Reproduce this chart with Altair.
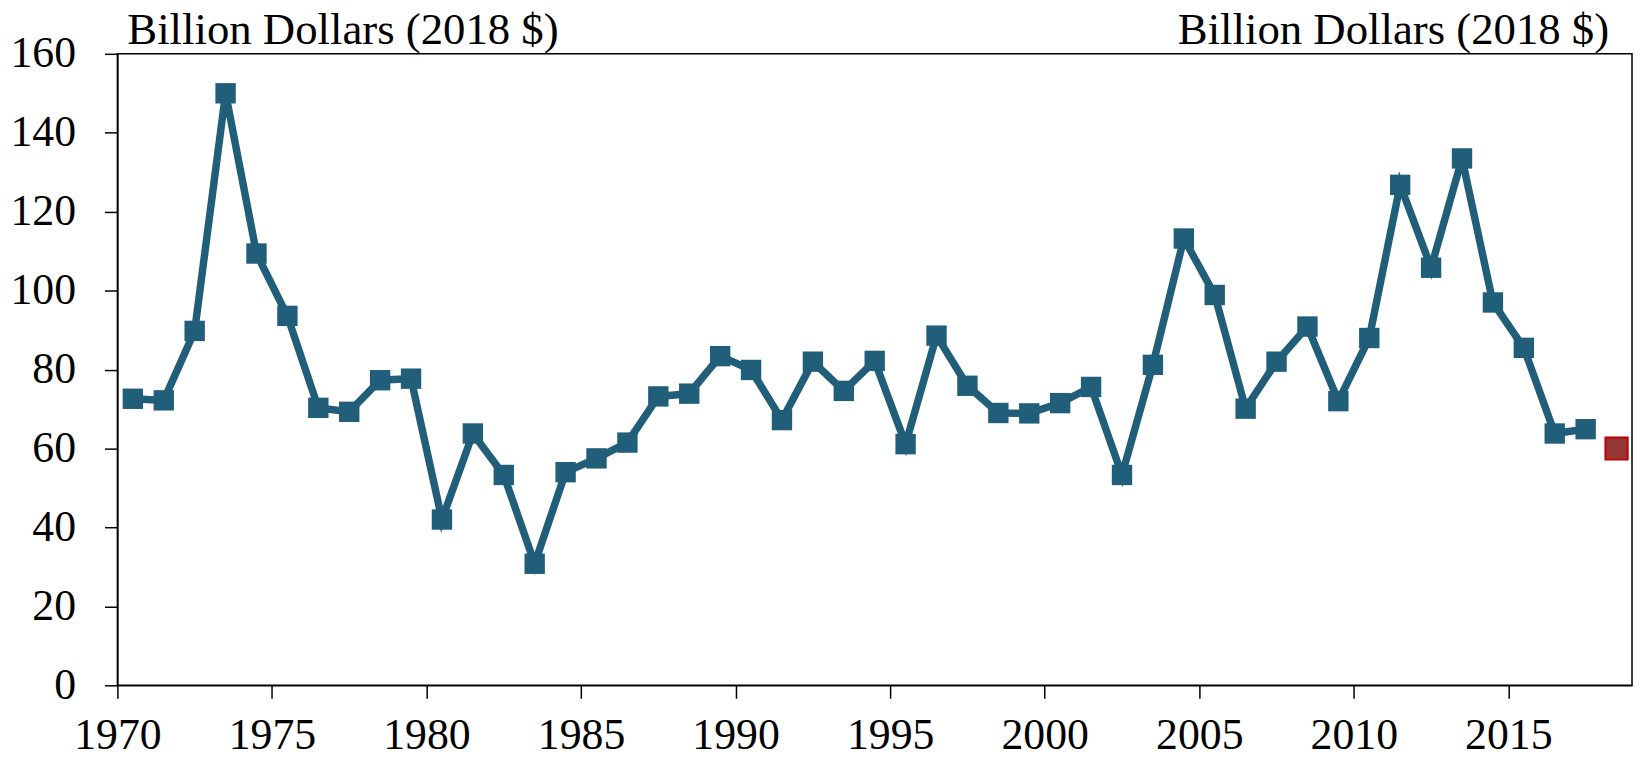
import altair as alt
import pandas as pd

years = list(range(1970, 2018))
values = [72.6, 72.2, 89.8, 150.0, 109.4, 93.6, 70.3, 69.3, 77.3, 77.7,
          42.0, 63.8, 53.3, 30.8, 54.0, 57.5, 61.5, 73.2, 73.9, 83.4,
          79.9, 67.2, 82.0, 74.6, 82.2, 61.1, 88.6, 75.9, 69.0, 68.9,
          71.5, 75.6, 53.3, 81.2, 113.2, 98.9, 70.1, 82.0, 90.9, 72.0,
          88.0, 126.8, 105.8, 133.5, 97.0, 85.5, 63.8, 64.9]
est_year = [2018]
est_value = [60.0]
x_ticks = [1970, 1975, 1980, 1985, 1990, 1995, 2000, 2005, 2010, 2015]
y_ticks = [0, 20, 40, 60, 80, 100, 120, 140, 160]
unit_label = "Billion Dollars (2018 $)"

FONT = "Liberation Serif"
BLUE = "#215E7A"
W, H = 1523, 635

df = pd.DataFrame({"year": years, "value": values})
df_est = pd.DataFrame({"year": est_year, "value": est_value})
df_lbl = pd.DataFrame({"t": [unit_label]})

x_enc = alt.X("mid:Q",
              scale=alt.Scale(domain=[1970, 2019], nice=False, zero=False),
              axis=alt.Axis(values=x_ticks, format="d", title=None,
                            labelPadding=16, labelFlush=False))
y_enc = alt.Y("value:Q",
              scale=alt.Scale(domain=[0, 160], nice=False),
              axis=alt.Axis(values=y_ticks, title=None, labelPadding=29))

base = alt.Chart(df).transform_calculate(mid="datum.year + 0.5")

line = base.mark_line(color=BLUE, strokeWidth=7.5).encode(x=x_enc, y=y_enc)
pts = base.mark_square(size=420, color=BLUE, opacity=1).encode(x=x_enc, y=y_enc)
est = alt.Chart(df_est).transform_calculate(mid="datum.year + 0.5").mark_square(
    size=500, fill="#943634", stroke="#C00000", strokeWidth=2, opacity=1
).encode(x=x_enc, y=y_enc)

lbl_left = alt.Chart(df_lbl).mark_text(
    font=FONT, fontSize=45, align="left", baseline="alphabetic", color="black"
).encode(text="t:N", x=alt.value(10), y=alt.value(-10))
lbl_right = alt.Chart(df_lbl).mark_text(
    font=FONT, fontSize=45, align="right", baseline="alphabetic", color="black"
).encode(text="t:N", x=alt.value(W - 23), y=alt.value(-10))

chart = alt.layer(line, pts, est, lbl_left, lbl_right).properties(
    width=W, height=H,
    autosize="none",
    padding={"left": 110, "top": 44, "right": 2, "bottom": 70},
).configure_view(
    stroke="black", strokeWidth=1.5
).configure_axis(
    labelFont=FONT, labelFontSize=44, labelColor="black",
    tickColor="black", tickSize=13, tickWidth=1.5,
    domainColor="black", domainWidth=1.5, grid=False,
)

chart.save("out.html", embed_options={"renderer": "svg", "actions": False})
